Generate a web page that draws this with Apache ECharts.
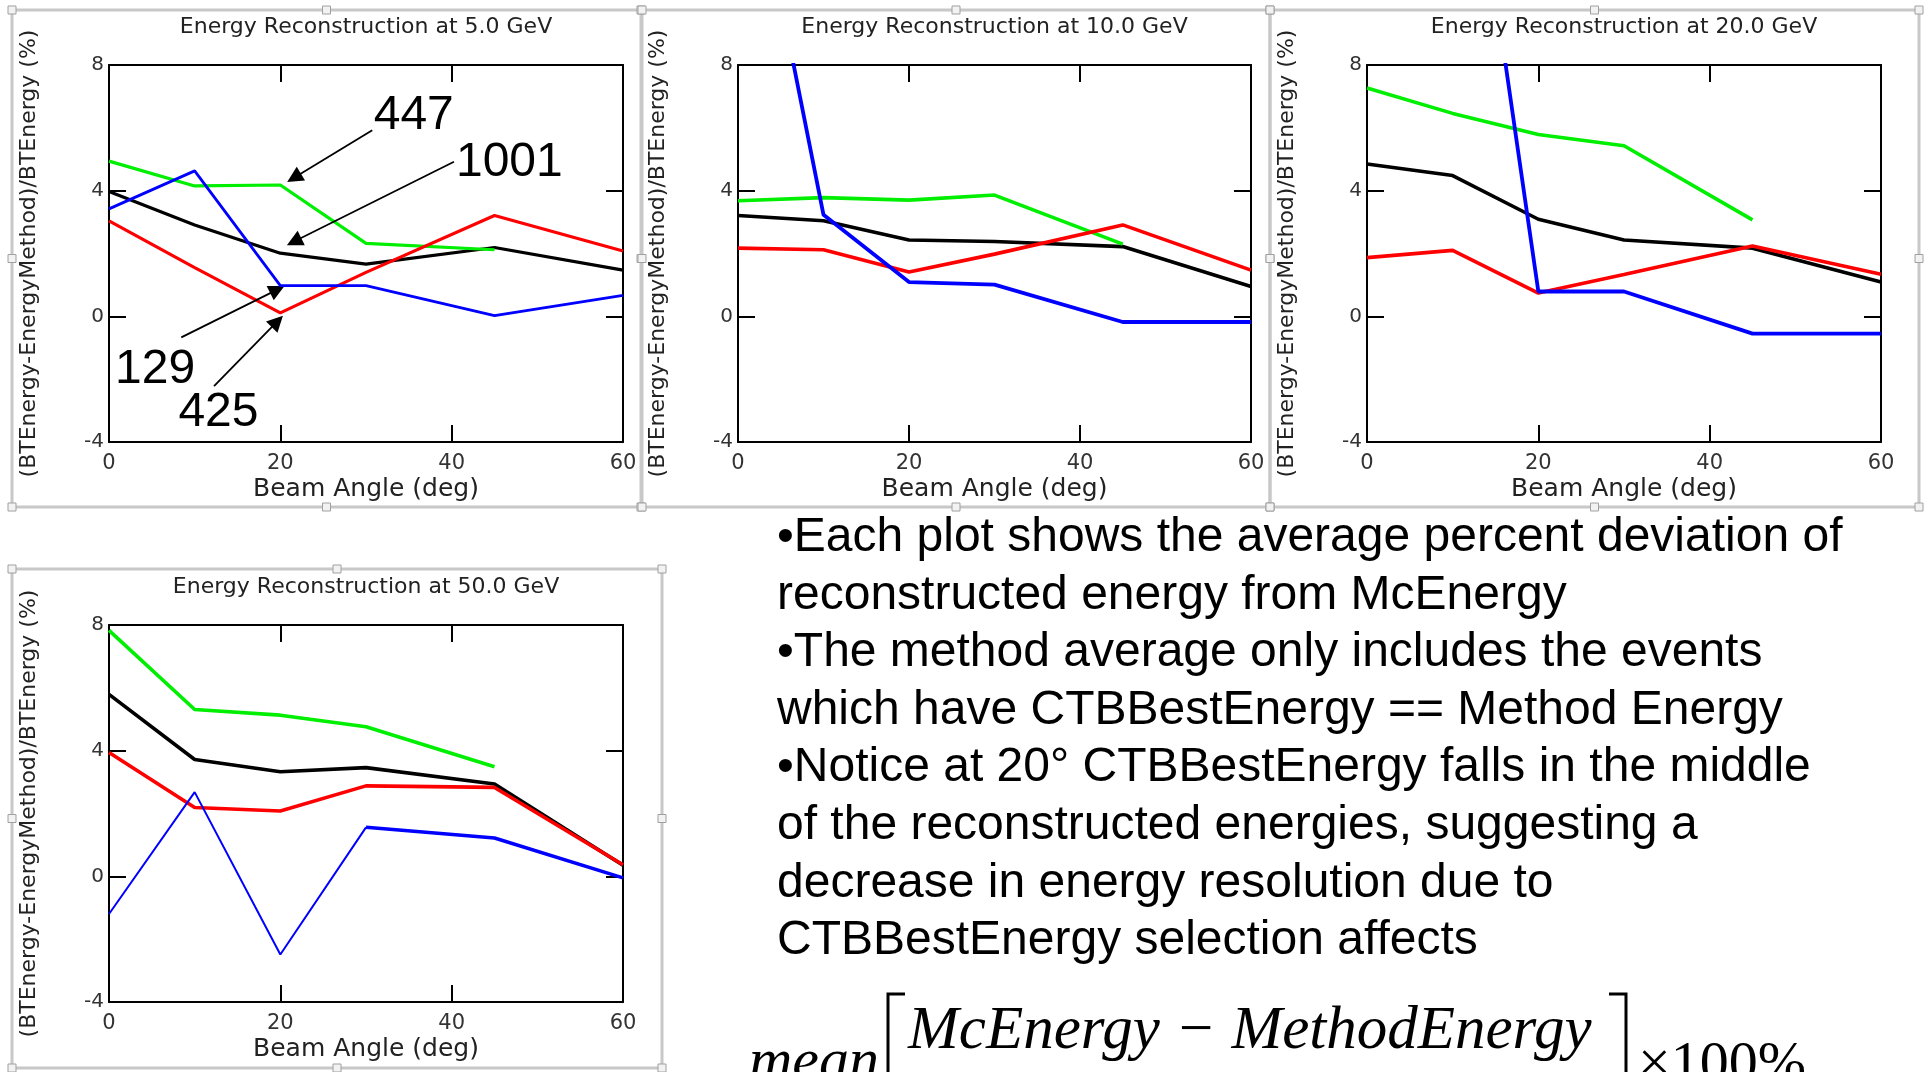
<!DOCTYPE html>
<html>
<head>
<meta charset="utf-8">
<script src="https://cdn.jsdelivr.net/npm/echarts@6/dist/echarts.min.js"></script>
<style>
  html, body { margin: 0; padding: 0; background: #ffffff; }
  #chart { width: 1931px; height: 1072px; }
</style>
</head>
<body>
<div id="chart"></div>
<script>
// ---- data -------------------------------------------------------------
const angles = [0, 10, 20, 30, 45, 60];          // beam angle (deg)
const xTicks = [0, 20, 40, 60];
const yTicks = [-4, 0, 4, 8];
const methodNames = ['447', '1001', '129', '425']; // green, black, blue, red

const panelTitles = [
  'Energy Reconstruction at 5.0 GeV',
  'Energy Reconstruction at 10.0 GeV',
  'Energy Reconstruction at 20.0 GeV',
  'Energy Reconstruction at 50.0 GeV'
];

// 5.0 GeV
const green5 = [4.94, 4.15, 4.18, 2.32, 2.12, null];
const black5 = [3.97, 2.91, 2.01, 1.66, 2.19, 1.47];
const blue5  = [3.42, 4.63, 0.98, 0.98, 0.02, 0.67];
const red5   = [3.04, 1.55, 0.11, 1.40, 3.21, 2.08];

// 10.0 GeV
const green10 = [3.68, 3.78, 3.70, 3.86, 2.30, null];
const black10 = [3.21, 3.04, 2.43, 2.38, 2.22, 0.95];
const blue10  = [16.9, 3.23, 1.09, 1.01, -0.18, -0.18];
const red10   = [2.17, 2.12, 1.41, 1.98, 2.91, 1.47];

// 20.0 GeV
const green20 = [7.27, 6.46, 5.79, 5.43, 3.07, null];
const black20 = [4.85, 4.48, 3.09, 2.43, 2.17, 1.09];
const blue20  = [null, 19.7, 0.79, 0.79, -0.55, -0.55];
const red20   = [1.87, 2.10, 0.74, 1.33, 2.24, 1.34];

// 50.0 GeV
const green50 = [7.83, 5.31, 5.13, 4.76, 3.49, null];
const black50 = [5.79, 3.72, 3.33, 3.46, 2.94, 0.35];
const blue50  = [-1.20, 2.68, -2.49, 1.56, 1.22, -0.05];
const red50   = [3.94, 2.19, 2.08, 2.88, 2.83, 0.37];

const bulletLines = [
  '\u2022Each plot shows the average percent deviation of',
  'reconstructed energy from McEnergy',
  '\u2022The method average only includes the events',
  'which have CTBBestEnergy == Method Energy',
  '\u2022Notice at 20\u00b0 CTBBestEnergy falls in the middle',
  'of the reconstructed energies, suggesting a',
  'decrease in energy resolution due to',
  'CTBBestEnergy selection affects'
];

// ---- layout -----------------------------------------------------------
const grids = [
  { left: 109,  top: 65,  width: 514, height: 377 },
  { left: 738,  top: 65,  width: 513, height: 377 },
  { left: 1367, top: 65,  width: 514, height: 377 },
  { left: 109,  top: 625, width: 514, height: 377 }
];
const frames = [
  { x: 12,   y: 10,  w: 629, h: 497 },
  { x: 642,  y: 10,  w: 628, h: 497 },
  { x: 1270, y: 10,  w: 649, h: 497 },
  { x: 12,   y: 569, w: 650, h: 499 }
];
// call-outs on the 5.0 GeV panel, in data units: label centre-left, arrow tail, arrow head
const callouts = [
  { text: [30.9, 6.40],  tail: [30.73, 5.92],  head: [21.6, 4.41] },
  { text: [40.5, 4.90],  tail: [40.27, 4.92],  head: [21.6, 2.38] },
  { text: [0.7, -1.70],  tail: [8.44, -0.67],  head: [19.65, 0.85] },
  { text: [8.1, -3.06],  tail: [12.26, -2.22], head: [19.65, -0.16] }
];

const PANEL_FONT = '"DejaVu Sans", "Liberation Sans", sans-serif';
const SLIDE_FONT = '"Liberation Sans", Arial, sans-serif';
const MATH_FONT  = '"Liberation Serif", "Times New Roman", serif';

const panelSeries = [
  { green: green5,  black: black5,  blue: blue5,  red: red5,  w: 3.2 },
  { green: green10, black: black10, blue: blue10, red: red10, w: 3.6 },
  { green: green20, black: black20, blue: blue20, red: red20, w: 3.6 },
  { green: green50, black: black50, blue: blue50, red: red50, w: 3.6 }
];

const toPairs = (vals, keep) => angles.map((a, k) =>
  [a, (vals[k] == null || (keep && !keep(k))) ? '-' : vals[k]]);

// ---- axes -------------------------------------------------------------
const xAxes = [], yAxes = [];
grids.forEach((g, gi) => {
  ['bottom', 'top'].forEach(pos => xAxes.push({
    type: 'value', gridIndex: gi, position: pos,
    min: xTicks[0], max: xTicks[xTicks.length - 1], interval: xTicks[1] - xTicks[0],
    axisLine: { show: true, onZero: false, lineStyle: { color: '#000', width: 2 } },
    axisTick: { show: true, inside: true, length: 17, lineStyle: { color: '#000', width: 2 } },
    axisLabel: { show: pos === 'bottom', margin: 11, color: '#333', fontFamily: PANEL_FONT, fontSize: 21,
                 showMinLabel: true, showMaxLabel: true },
    splitLine: { show: false }
  }));
  ['left', 'right'].forEach(pos => yAxes.push({
    type: 'value', gridIndex: gi, position: pos,
    min: yTicks[0], max: yTicks[yTicks.length - 1], interval: yTicks[1] - yTicks[0],
    axisLine: { show: true, onZero: false, lineStyle: { color: '#000', width: 2 } },
    axisTick: { show: true, inside: true, length: 17, lineStyle: { color: '#000', width: 2 } },
    axisLabel: { show: pos === 'left', margin: 5, color: '#333', fontFamily: PANEL_FONT, fontSize: 20,
                 showMinLabel: true, showMaxLabel: true },
    splitLine: { show: false }
  }));
});

// ---- series -----------------------------------------------------------
function lineSeries(name, color, width, gi, data, z) {
  return {
    type: 'line', name, xAxisIndex: 2 * gi, yAxisIndex: 2 * gi,
    data, symbol: 'none', showSymbol: false, clip: true, z,
    lineStyle: { color, width }, itemStyle: { color }, silent: true
  };
}

const series = [];
panelSeries.forEach((p, gi) => {
  const black = lineSeries(methodNames[1], '#000000', p.w, gi, toPairs(p.black), 2);
  series.push(black);
  series.push(lineSeries(methodNames[0], '#00ee00', p.w, gi, toPairs(p.green), 3));
  series.push(lineSeries(methodNames[3], '#ff0000', p.w, gi, toPairs(p.red), 4));
  if (gi === 3) {
    // thin stroke up to 30 deg, heavier afterwards
    series.push(lineSeries(methodNames[2], '#0000ff', 2, gi, toPairs(p.blue, k => k <= 3), 5));
    series.push(lineSeries(methodNames[2], '#0000ff', 3.6, gi, toPairs(p.blue, k => k >= 3), 5));
  } else {
    series.push(lineSeries(methodNames[2], '#0000ff', gi === 0 ? 2.8 : 3.8, gi, toPairs(p.blue), 5));
  }
  if (gi === 0) {
    black.markLine = {
      silent: true, animation: false,
      symbol: ['none', 'triangle'], symbolSize: 16,
      lineStyle: { color: '#000', width: 1.8, type: 'solid' },
      label: { show: false },
      data: callouts.map(c => [{ coord: c.tail }, { coord: c.head }])
    };
    black.markPoint = {
      silent: true, animation: false,
      symbol: 'circle', symbolSize: 0,
      label: { show: true, position: [0, 0], align: 'left', verticalAlign: 'middle',
               formatter: '{b}', color: '#000', fontFamily: SLIDE_FONT, fontSize: 48 },
      data: callouts.map((c, i) => ({ name: methodNames[i], coord: c.text }))
    };
  }
});

// ---- decorations and text ----------------------------------------------
const graphic = [];
frames.forEach(f => {
  graphic.push({ type: 'rect', z: 0, silent: true,
    shape: { x: f.x, y: f.y, width: f.w, height: f.h },
    style: { fill: 'none', stroke: '#c8c8c8', lineWidth: 3 } });
  const xs = [f.x, f.x + f.w / 2, f.x + f.w], ys = [f.y, f.y + f.h / 2, f.y + f.h];
  xs.forEach((hx, i) => ys.forEach((hy, j) => {
    if (i === 1 && j === 1) return;
    graphic.push({ type: 'rect', z: 1, silent: true,
      shape: { x: hx - 4, y: hy - 4, width: 8, height: 8 },
      style: { fill: '#f2f2f2', stroke: '#a0a0a0', lineWidth: 1 } });
  }));
});
grids.forEach((g, gi) => {
  const cx = g.left + g.width / 2;
  graphic.push({ type: 'text', z: 5, silent: true, x: cx, y: g.top - 38,
    style: { text: panelTitles[gi], font: '22px ' + PANEL_FONT, fill: '#222', align: 'center', verticalAlign: 'middle' } });
  graphic.push({ type: 'text', z: 5, silent: true, x: cx, y: g.top + g.height + 47,
    style: { text: 'Beam Angle (deg)', font: '25px ' + PANEL_FONT, fill: '#222', align: 'center', verticalAlign: 'middle' } });
  graphic.push({ type: 'text', z: 5, silent: true, x: g.left - 80, y: g.top + g.height / 2, rotation: Math.PI / 2,
    style: { text: '(BTEnergy-EnergyMethod)/BTEnergy (%)', font: '22px ' + PANEL_FONT, fill: '#222', align: 'center', verticalAlign: 'middle' } });
});
bulletLines.forEach((t, i) => {
  graphic.push({ type: 'text', z: 5, silent: true, x: 777, y: 537.7 + i * 57.6,
    style: { text: t, font: '48px ' + SLIDE_FONT, fill: '#000', align: 'left', verticalAlign: 'middle' } });
});
graphic.push({ type: 'text', z: 5, silent: true, x: 908, y: 1032,
  style: { text: 'McEnergy \u2212 MethodEnergy', font: 'italic 61px ' + MATH_FONT, fill: '#000', align: 'left', verticalAlign: 'middle' } });
graphic.push({ type: 'text', z: 5, silent: true, x: 749, y: 1063,
  style: { text: 'mean', font: 'italic 60px ' + MATH_FONT, fill: '#000', align: 'left', verticalAlign: 'middle' } });
graphic.push({ type: 'text', z: 5, silent: true, x: 1638, y: 1066,
  style: { text: '\u00d7100%', font: '58px ' + MATH_FONT, fill: '#000', align: 'left', verticalAlign: 'middle' } });
graphic.push({ type: 'polyline', z: 5, silent: true,
  shape: { points: [[905, 994], [888, 994], [888, 1080]] }, style: { stroke: '#000', lineWidth: 3, fill: 'none' } });
graphic.push({ type: 'polyline', z: 5, silent: true,
  shape: { points: [[1609, 994], [1626, 994], [1626, 1080]] }, style: { stroke: '#000', lineWidth: 3, fill: 'none' } });

const chart = echarts.init(document.getElementById('chart'), null, { renderer: 'canvas' });
chart.setOption({
  backgroundColor: '#ffffff',
  animation: false,
  grid: grids.map(g => Object.assign({ containLabel: false }, g)),
  xAxis: xAxes,
  yAxis: yAxes,
  series,
  graphic
});
</script>
</body>
</html>
